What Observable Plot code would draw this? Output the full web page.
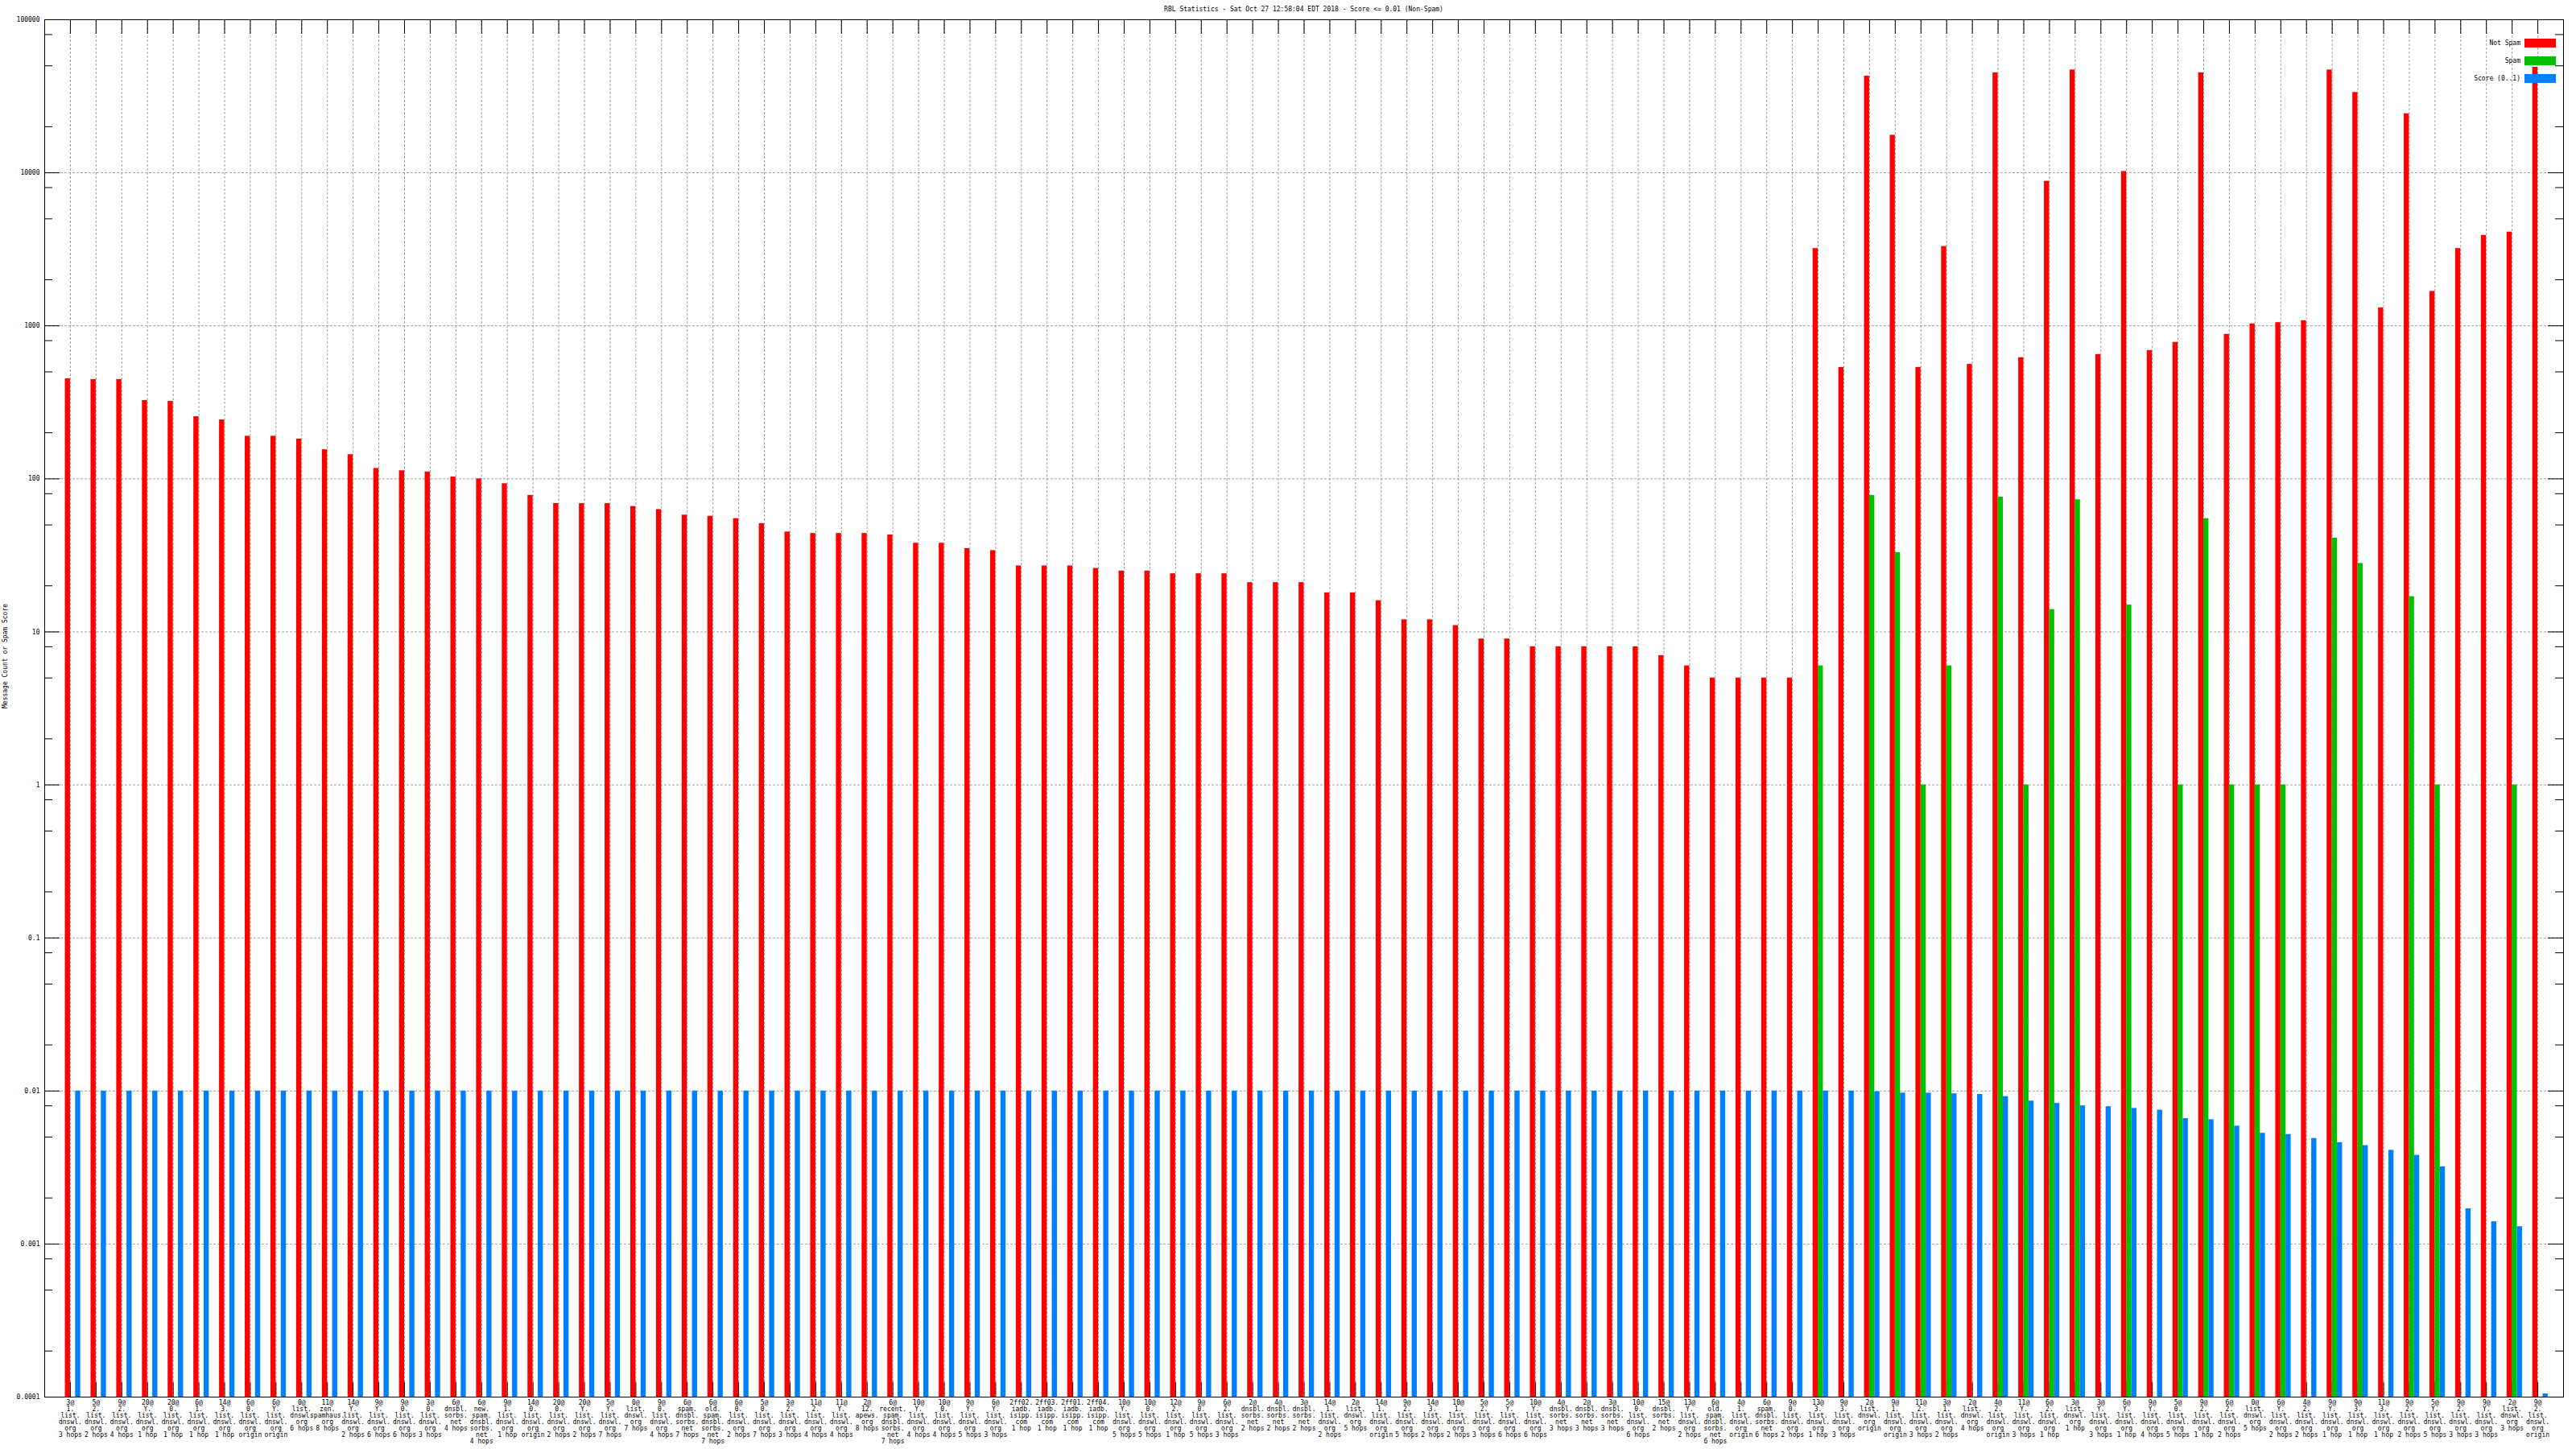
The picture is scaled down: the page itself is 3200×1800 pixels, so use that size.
<!DOCTYPE html>
<html>
<head>
<meta charset="utf-8">
<script src="https://cdn.jsdelivr.net/npm/d3@7"></script>
<script src="https://cdn.jsdelivr.net/npm/@observablehq/plot@0.6"></script>
<style>
  body { margin: 0; background: #fff; }
  #wrap { position: relative; width: 3200px; height: 1800px; font-family: "DejaVu Sans Mono", monospace; color: #000; }
  #title { height: 21px; padding-top: 1px; line-height: 22px; margin-left: 55px; width: 3129px; text-align: center; font-size: 8px; }
  #chart svg { display: block; }
  #legend { position: absolute; left: 2900px; top: 42px; width: 275px; font-size: 8px; }
  .row { display: flex; justify-content: flex-end; align-items: center; height: 22px; }
  .sw { width: 39px; height: 11px; margin-left: 5px; }
</style>
</head>
<body>
<div id="wrap">
  <div id="title">RBL Statistics - Sat Oct 27 12:58:04 EDT 2018 - Score &lt;= 0.01 (Non-Spam)</div>
  <div id="chart"></div>
  <div id="legend"></div>
</div>
<script>
const categories = [
  "3@\n1.\nlist.\ndnswl.\norg\n3 hops",
  "5@\n2.\nlist.\ndnswl.\norg\n2 hops",
  "9@\n2.\nlist.\ndnswl.\norg\n4 hops",
  "20@\nY.\nlist.\ndnswl.\norg\n1 hop",
  "20@\n0.\nlist.\ndnswl.\norg\n1 hop",
  "6@\n1.\nlist.\ndnswl.\norg\n1 hop",
  "14@\n3.\nlist.\ndnswl.\norg\n1 hop",
  "6@\n0.\nlist.\ndnswl.\norg\norigin",
  "6@\nY.\nlist.\ndnswl.\norg\norigin",
  "0@\nlist.\ndnswl.\norg\n6 hops",
  "11@\nzen.\nspamhaus.\norg\n8 hops",
  "14@\nY.\nlist.\ndnswl.\norg\n2 hops",
  "9@\nY.\nlist.\ndnswl.\norg\n6 hops",
  "9@\n0.\nlist.\ndnswl.\norg\n6 hops",
  "3@\n0.\nlist.\ndnswl.\norg\n3 hops",
  "6@\ndnsbl.\nsorbs.\nnet\n4 hops",
  "6@\nnew.\nspam.\ndnsbl.\nsorbs.\nnet\n4 hops",
  "9@\n1.\nlist.\ndnswl.\norg\n1 hop",
  "14@\n0.\nlist.\ndnswl.\norg\norigin",
  "20@\n0.\nlist.\ndnswl.\norg\n2 hops",
  "20@\nY.\nlist.\ndnswl.\norg\n2 hops",
  "5@\nY.\nlist.\ndnswl.\norg\n7 hops",
  "0@\nlist.\ndnswl.\norg\n7 hops",
  "9@\n0.\nlist.\ndnswl.\norg\n4 hops",
  "6@\nspam.\ndnsbl.\nsorbs.\nnet\n7 hops",
  "6@\nold.\nspam.\ndnsbl.\nsorbs.\nnet\n7 hops",
  "6@\n0.\nlist.\ndnswl.\norg\n2 hops",
  "5@\n0.\nlist.\ndnswl.\norg\n7 hops",
  "3@\n2.\nlist.\ndnswl.\norg\n3 hops",
  "11@\n2.\nlist.\ndnswl.\norg\n4 hops",
  "11@\nY.\nlist.\ndnswl.\norg\n4 hops",
  "2@\n12.\napews.\norg\n8 hops",
  "6@\nrecent.\nspam.\ndnsbl.\nsorbs.\nnet\n7 hops",
  "10@\nY.\nlist.\ndnswl.\norg\n4 hops",
  "10@\n0.\nlist.\ndnswl.\norg\n4 hops",
  "9@\nY.\nlist.\ndnswl.\norg\n5 hops",
  "6@\nY.\nlist.\ndnswl.\norg\n3 hops",
  "2ff02.\niadb.\nisipp.\ncom\n1 hop",
  "2ff03.\niadb.\nisipp.\ncom\n1 hop",
  "2ff01.\niadb.\nisipp.\ncom\n1 hop",
  "2ff04.\niadb.\nisipp.\ncom\n1 hop",
  "10@\nY.\nlist.\ndnswl.\norg\n5 hops",
  "10@\n0.\nlist.\ndnswl.\norg\n5 hops",
  "12@\n2.\nlist.\ndnswl.\norg\n1 hop",
  "9@\n0.\nlist.\ndnswl.\norg\n5 hops",
  "6@\n2.\nlist.\ndnswl.\norg\n3 hops",
  "2@\ndnsbl.\nsorbs.\nnet\n2 hops",
  "4@\ndnsbl.\nsorbs.\nnet\n2 hops",
  "3@\ndnsbl.\nsorbs.\nnet\n2 hops",
  "14@\n1.\nlist.\ndnswl.\norg\n2 hops",
  "2@\nlist.\ndnswl.\norg\n5 hops",
  "14@\n1.\nlist.\ndnswl.\norg\norigin",
  "9@\n2.\nlist.\ndnswl.\norg\n5 hops",
  "14@\n3.\nlist.\ndnswl.\norg\n2 hops",
  "10@\n1.\nlist.\ndnswl.\norg\n2 hops",
  "5@\n2.\nlist.\ndnswl.\norg\n3 hops",
  "5@\nY.\nlist.\ndnswl.\norg\n6 hops",
  "10@\nY.\nlist.\ndnswl.\norg\n6 hops",
  "4@\ndnsbl.\nsorbs.\nnet\n3 hops",
  "2@\ndnsbl.\nsorbs.\nnet\n3 hops",
  "3@\ndnsbl.\nsorbs.\nnet\n3 hops",
  "10@\n0.\nlist.\ndnswl.\norg\n6 hops",
  "15@\ndnsbl.\nsorbs.\nnet\n2 hops",
  "13@\nY.\nlist.\ndnswl.\norg\n2 hops",
  "6@\nold.\nspam.\ndnsbl.\nsorbs.\nnet\n6 hops",
  "4@\n1.\nlist.\ndnswl.\norg\norigin",
  "6@\nspam.\ndnsbl.\nsorbs.\nnet\n6 hops",
  "9@\n0.\nlist.\ndnswl.\norg\n2 hops",
  "13@\n3.\nlist.\ndnswl.\norg\n1 hop",
  "9@\n3.\nlist.\ndnswl.\norg\n3 hops",
  "2@\nlist.\ndnswl.\norg\norigin",
  "9@\n1.\nlist.\ndnswl.\norg\norigin",
  "11@\n2.\nlist.\ndnswl.\norg\n3 hops",
  "3@\n1.\nlist.\ndnswl.\norg\n2 hops",
  "2@\nlist.\ndnswl.\norg\n4 hops",
  "4@\n2.\nlist.\ndnswl.\norg\norigin",
  "11@\nY.\nlist.\ndnswl.\norg\n3 hops",
  "6@\n2.\nlist.\ndnswl.\norg\n1 hop",
  "3@\nlist.\ndnswl.\norg\n1 hop",
  "3@\nY.\nlist.\ndnswl.\norg\n3 hops",
  "6@\nY.\nlist.\ndnswl.\norg\n1 hop",
  "9@\nY.\nlist.\ndnswl.\norg\n4 hops",
  "5@\n0.\nlist.\ndnswl.\norg\n5 hops",
  "9@\n2.\nlist.\ndnswl.\norg\n1 hop",
  "6@\n2.\nlist.\ndnswl.\norg\n2 hops",
  "0@\nlist.\ndnswl.\norg\n5 hops",
  "6@\nY.\nlist.\ndnswl.\norg\n2 hops",
  "4@\n2.\nlist.\ndnswl.\norg\n2 hops",
  "9@\nY.\nlist.\ndnswl.\norg\n1 hop",
  "9@\n3.\nlist.\ndnswl.\norg\n1 hop",
  "11@\n3.\nlist.\ndnswl.\norg\n1 hop",
  "9@\n2.\nlist.\ndnswl.\norg\n2 hops",
  "5@\nY.\nlist.\ndnswl.\norg\n5 hops",
  "9@\n2.\nlist.\ndnswl.\norg\n3 hops",
  "9@\nY.\nlist.\ndnswl.\norg\n3 hops",
  "2@\nlist.\ndnswl.\norg\n3 hops",
  "9@\n2.\nlist.\ndnswl.\norg\norigin"
];

const notSpam = [
  451, 446, 446, 325, 321, 255, 243, 190, 190, 182,
  155, 144, 117, 113, 111, 103, 100, 93, 78, 69,
  69, 69, 66, 63, 58, 57, 55, 51, 45, 44,
  44, 44, 43, 38, 38, 35, 34, 27, 27, 27,
  26, 25, 25, 24, 24, 24, 21, 21, 21, 18,
  18, 16, 12, 12, 11, 9, 9, 8, 8, 8,
  8, 8, 7, 6, 5, 5, 5, 5, 3200, 535,
  42800, 17600, 535, 3300, 560, 45000, 620, 8800, 47000, 650,
  10200, 690, 780, 45000, 880, 1030, 1050, 1080, 47000, 33500,
  1310, 24300, 1680, 3200, 3900, 4100, 49000
];

const spam = [
  0, 0, 0, 0, 0, 0, 0, 0, 0, 0,
  0, 0, 0, 0, 0, 0, 0, 0, 0, 0,
  0, 0, 0, 0, 0, 0, 0, 0, 0, 0,
  0, 0, 0, 0, 0, 0, 0, 0, 0, 0,
  0, 0, 0, 0, 0, 0, 0, 0, 0, 0,
  0, 0, 0, 0, 0, 0, 0, 0, 0, 0,
  0, 0, 0, 0, 0, 0, 0, 0, 6, 0,
  78, 33, 1, 6, 0, 76, 1, 14, 73, 0,
  15, 0, 1, 55, 1, 1, 1, 0, 41, 28,
  0, 17, 1, 0, 0, 1, 0
];

const score = [
  0.01, 0.01, 0.01, 0.01, 0.01, 0.01, 0.01, 0.01, 0.01, 0.01,
  0.01, 0.01, 0.01, 0.01, 0.01, 0.01, 0.01, 0.01, 0.01, 0.01,
  0.01, 0.01, 0.01, 0.01, 0.01, 0.01, 0.01, 0.01, 0.01, 0.01,
  0.01, 0.01, 0.01, 0.01, 0.01, 0.01, 0.01, 0.01, 0.01, 0.01,
  0.01, 0.01, 0.01, 0.01, 0.01, 0.01, 0.01, 0.01, 0.01, 0.01,
  0.01, 0.01, 0.01, 0.01, 0.01, 0.01, 0.01, 0.01, 0.01, 0.01,
  0.01, 0.01, 0.01, 0.01, 0.01, 0.01, 0.01, 0.01, 0.01, 0.01,
  0.0099, 0.0097, 0.0097, 0.0096, 0.0095, 0.0092, 0.0086, 0.0083, 0.008, 0.0079,
  0.0077, 0.0075, 0.0066, 0.0065, 0.0059, 0.0053, 0.0052, 0.0049, 0.0046, 0.0044,
  0.0041, 0.0038, 0.0032, 0.0017, 0.0014, 0.0013, 0.000105
];

const seriesNames = ["Not Spam", "Spam", "Score (0..1)"];
const seriesColors = ["#ff0000", "#00c000", "#0080ff"];

const yMajorTicks = [100000, 10000, 1000, 100, 10, 1, 0.1, 0.01, 0.001, 0.0001];
const yMajorLabels = ["100000", "10000", "1000", "100", "10", "1", "0.1", "0.01", "0.001", "0.0001"];
const yMinorTicks = [
  0.0002, 0.0005, 0.0008, 0.002, 0.005, 0.008, 0.02, 0.05, 0.08,
  0.2, 0.5, 0.8, 2, 5, 8, 20, 50, 80, 200, 500, 800,
  2000, 5000, 8000, 20000, 50000, 80000
];
const yLabel = "Message Count or Spam Score";

// layout (not data)
const W = 3200, H = 1778, mL = 55, mR = 16, mT = 2, mB = 65;
const innerW = W - mL - mR, innerH = H - mT - mB;
const clusterSlots = [[-0.2, 0], [0, 0.2], [0.2, 0.4]];
const yFloor = yMajorTicks[yMajorTicks.length - 1];

const seriesValues = [notSpam, spam, score];
const rows = [];
categories.forEach((c, i) => {
  seriesValues.forEach((arr, s) => {
    if (arr[i] > 0) rows.push({i, s, name: seriesNames[s], v: arr[i]});
  });
});
const idx = categories.map((_, i) => i);

const grid = {stroke: "#a0a0a0", strokeDasharray: "3,2", strokeWidth: 1};

const chart = Plot.plot({
  width: W,
  height: H,
  marginLeft: mL,
  marginRight: mR,
  marginTop: mT,
  marginBottom: mB,
  style: {fontFamily: '"DejaVu Sans Mono", monospace', fontSize: "8px", background: "white", color: "black", overflow: "visible"},
  x: {type: "linear", domain: [-1, categories.length], axis: null},
  y: {type: "log", domain: [yFloor, yMajorTicks[0]], axis: null},
  color: {domain: seriesNames, range: seriesColors},
  marks: [
    Plot.ruleY(yMajorTicks, grid),
    Plot.ruleX(idx, grid),
    Plot.tickX(idx, {x: d => d, insetTop: innerH - 18, stroke: "black"}),
    Plot.rect(rows, {
      x1: d => d.i + clusterSlots[d.s][0],
      x2: d => d.i + clusterSlots[d.s][1],
      y1: () => yFloor,
      y2: "v",
      fill: "name"
    }),
    Plot.tickX(idx, {x: d => d, insetBottom: innerH - 18, stroke: "black"}),
    Plot.tickY(yMajorTicks, {y: d => d, insetRight: innerW - 19, stroke: "black"}),
    Plot.tickY(yMajorTicks, {y: d => d, insetLeft: innerW - 19, stroke: "black"}),
    Plot.tickY(yMinorTicks, {y: d => d, insetRight: innerW - 10, stroke: "black"}),
    Plot.tickY(yMinorTicks, {y: d => d, insetLeft: innerW - 10, stroke: "black"}),
    Plot.frame({stroke: "black"}),
    Plot.text(yMajorTicks, {y: d => d, text: (d, i) => yMajorLabels[i], frameAnchor: "left", textAnchor: "end", dx: -6, fill: "black"}),
    Plot.text(categories, {x: (d, i) => i, text: d => d, frameAnchor: "bottom", lineAnchor: "top", dy: 4, lineHeight: 1, fill: "black"}),
    Plot.text([yLabel], {text: d => d, frameAnchor: "left", rotate: -90, dx: -49, fill: "black"})
  ]
});
document.getElementById("chart").appendChild(chart);

const legend = document.getElementById("legend");
seriesNames.forEach((n, s) => {
  const row = document.createElement("div");
  row.className = "row";
  const t = document.createElement("span");
  t.textContent = n;
  const sw = document.createElement("span");
  sw.className = "sw";
  sw.style.background = seriesColors[s];
  row.appendChild(t);
  row.appendChild(sw);
  legend.appendChild(row);
});
</script>
</body>
</html>
